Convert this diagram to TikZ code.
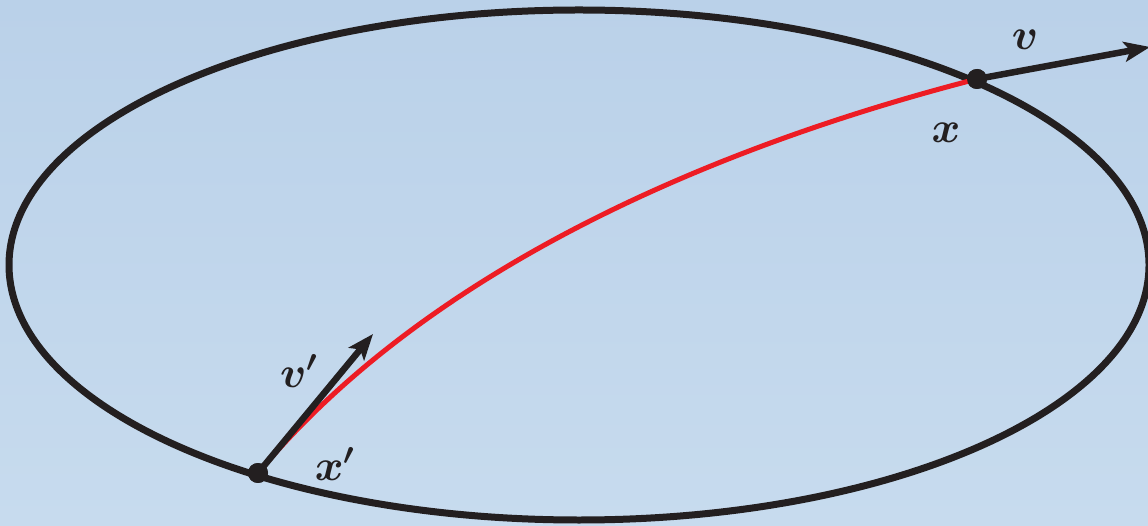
\documentclass[tikz,border=0pt]{standalone}
\usepackage{amsmath, amssymb, bm, xcolor, tikz}
\usetikzlibrary{arrows.meta}
\definecolor{bgtop}{RGB}{186,209,233}
\definecolor{bgbot}{RGB}{199,219,238}
\definecolor{ink}{RGB}{35,31,32}
\definecolor{orbit}{RGB}{237,28,36}

\begin{document}
\begin{tikzpicture}[x=0.02cm, y=-0.02cm,
    dot/.style={circle, fill=ink, inner sep=0pt, minimum size=0.4cm},
    vec/.style={ink, line width=0.13cm, -{Stealth[length=0.52cm, width=0.4cm, inset=0.12cm]}},
    lbl/.style={text=ink, font=\fontsize{25}{30}\selectfont}]
  % background
  \shade[top color=bgtop, bottom color=bgbot] (0,0) rectangle (1148,526);
  \useasboundingbox (0,0) rectangle (1148,526);
  \draw[ink, line width=0.14cm] (579,265) ellipse [x radius=570, y radius=255];
  % points and vectors
  \node[dot] (xpt) at (977,79) {};
  \node[dot] (xppt) at (258,473) {};
  \coordinate (vend) at (1150,47);
  \coordinate (vpend) at (373,334);
  \draw[orbit, line width=0.1cm] (xppt.center) .. controls (418,281) and (686,154) .. (xpt.center);
  \draw[vec] (xpt.center) -- (vend);
  \draw[vec] (xppt.center) -- (vpend);
  \node[dot] at (xpt) {};
  \node[dot] at (xppt) {};
  % labels
  \node[lbl] (vlbl) at (1025,40) {$\bm{v}$};
  \node[lbl] (xlbl) at (946,133) {$\bm{x}$};
  \node[lbl] (vplbl) at (299,371) {$\bm{v'}$};
  \node[lbl] (xplbl) at (335,464) {$\bm{x'}$};
\end{tikzpicture}
\end{document}
